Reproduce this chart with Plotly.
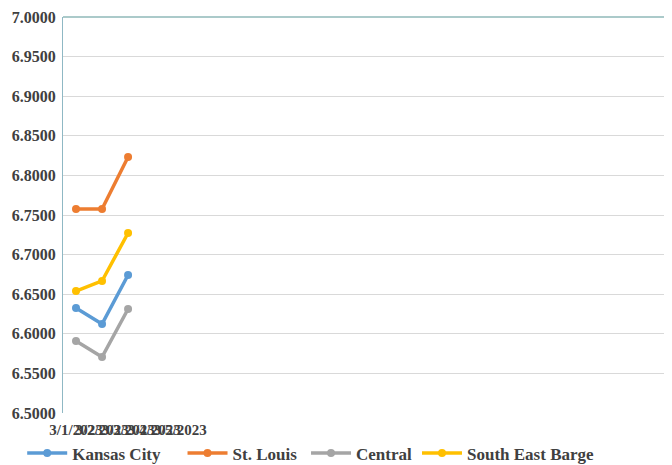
import plotly.graph_objects as go

dates = ["3/1/2023", "3/2/2023", "3/3/2023", "3/4/2023", "3/5/2023"]
x_idx = [0, 1, 2]
kansas_city = [6.6326, 6.6124, 6.6742]
st_louis = [6.7576, 6.7576, 6.8232]
central = [6.5909, 6.5707, 6.6313]
south_east_barge = [6.6540, 6.6667, 6.7273]
y_ticks = [6.5 + 0.05 * i for i in range(11)]

series = [
    ("Kansas City", kansas_city, "#5b9bd5", 4),
    ("St. Louis", st_louis, "#ed7d31", 1),
    ("Central", central, "#a5a5a5", 0),
    ("South East Barge", south_east_barge, "#ffc000", 0),
]

FAM = "Liberation Serif"

fig = go.Figure()
for name, vals, color, pad in series:
    fig.add_trace(go.Scatter(
        x=x_idx, y=vals, name="<b>%s</b>%s" % (name, "\u00a0" * pad),
        mode="lines+markers",
        line=dict(color=color, width=3.5),
        marker=dict(color=color, size=8),
    ))

fig.update_layout(
    width=664, height=457,
    margin=dict(l=55, r=0, t=9, b=52, autoexpand=False),
    paper_bgcolor="white", plot_bgcolor="white",
    font=dict(family=FAM, size=15, color="#404040"),
    showlegend=True,
    legend=dict(orientation="h", x=-0.067, y=-0.057, xanchor="left", yanchor="top",
                font=dict(family=FAM, size=17, color="#404040"),
                itemwidth=40),
    xaxis=dict(
        range=[-0.5, 22.9], tickmode="array", tickvals=list(range(len(dates))),
        ticktext=["<b>%s</b>" % d for d in dates], tickangle=0,
        showgrid=False, zeroline=False, showline=False, ticks="",
        automargin=False, ticklabelstandoff=6,
        tickfont=dict(family=FAM, size=15, color="#404040"),
    ),
    yaxis=dict(
        range=[6.5, 7.0], tickmode="array", tickvals=y_ticks,
        ticktext=["<b>%.4f</b>" % v for v in y_ticks],
        showgrid=True, gridcolor="#d9d9d9", gridwidth=1,
        zeroline=False, showline=True, linecolor="#8fb8c4", linewidth=1,
        ticks="", ticklabelstandoff=3, automargin=False,
        tickfont=dict(family=FAM, size=16, color="#404040"),
    ),
)

fig.add_shape(type="line", xref="paper", yref="paper", x0=0, x1=1, y0=1, y1=1,
              line=dict(color="#8fb8b8", width=1.5))

fig.write_html("out.html")
